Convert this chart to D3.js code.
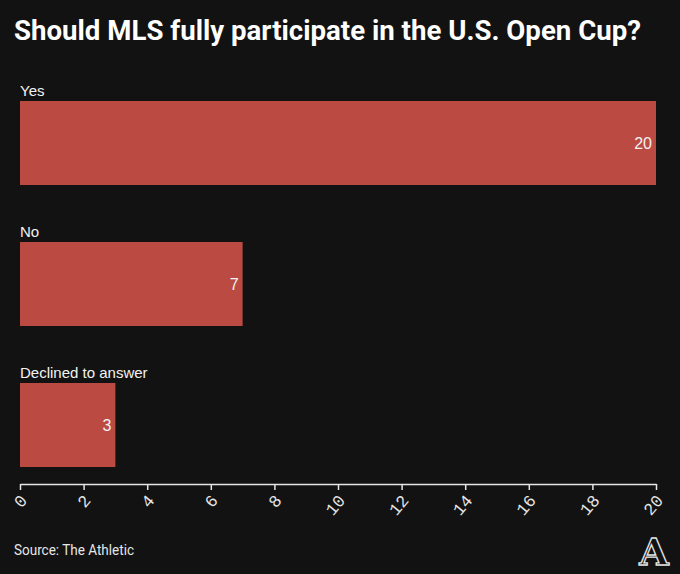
<!DOCTYPE html>
<html><head><meta charset="utf-8">
<script src="https://cdn.jsdelivr.net/npm/d3@7"></script>
<style>html,body{margin:0;padding:0;background:#121212;}</style>
</head><body>
<svg id="c" width="680" height="574"></svg>
<script>
const categories = ["Yes", "No", "Declined to answer"];
const values = [20, 7, 3];
const tickValues = [0, 2, 4, 6, 8, 10, 12, 14, 16, 18, 20];
const title = "Should MLS fully participate in the U.S. Open Cup?";
const source = "Source: The Athletic";

const svg = d3.select("#c");
svg.append("rect").attr("width", 680).attr("height", 574).attr("fill", "#121212");

svg.append("text").attr("x", 14).attr("y", 40)
  .attr("fill", "#fff").attr("font-family", "Roboto, 'Liberation Sans', sans-serif")
  .attr("font-weight", 700).attr("font-size", 28)
  .attr("textLength", 627).attr("lengthAdjust", "spacingAndGlyphs")
  .text(title);

const x = d3.scaleLinear().domain([0, 20]).range([20, 656]);
const step = 141, barH = 84;
const yPos = d3.scalePoint().domain(categories).range([101, 101 + 2 * step]);

const g = svg.append("g");
g.selectAll("rect.bar").data(categories).join("rect")
  .attr("x", x(0)).attr("y", d => yPos(d))
  .attr("width", (d, i) => x(values[i]) - x(0)).attr("height", barH)
  .attr("fill", "#bb4a43");

g.selectAll("text.cat").data(categories).join("text")
  .attr("x", x(0)).attr("y", d => yPos(d) - 5)
  .attr("fill", "#f2f2f2").attr("font-family", "'Liberation Sans', Arial, sans-serif")
  .attr("font-size", 15).text(d => d);

g.selectAll("text.val").data(categories).join("text")
  .attr("x", (d, i) => x(values[i]) - 4).attr("y", d => yPos(d) + barH / 2 + 6)
  .attr("text-anchor", "end")
  .attr("fill", "#f2f2f2").attr("font-family", "'Liberation Sans', Arial, sans-serif")
  .attr("font-size", 16).text((d, i) => values[i]);

const axis = d3.axisBottom(x).tickValues(tickValues).tickSize(6).tickSizeOuter(0).tickFormat(d3.format("d"));
const ax = svg.append("g").attr("transform", "translate(0,484)").call(axis);
ax.attr("font-size", null);
ax.select(".domain").attr("stroke", "#e6e6e6").attr("stroke-width", 1.5);
ax.selectAll(".tick line").attr("stroke", "#e6e6e6").attr("stroke-width", 1.5);
ax.selectAll(".tick text")
  .attr("fill", "#e6e6e6").attr("font-family", "'Liberation Mono', 'DejaVu Sans Mono', monospace")
  .style("font-size", "17px")
  .attr("text-anchor", "end")
  .attr("dy", "0.35em").attr("y", 0)
  .attr("transform", "translate(3,13) rotate(-50)");

svg.append("text").attr("x", 14).attr("y", 555)
  .attr("fill", "#e6e6e6").attr("font-family", "Roboto, 'Liberation Sans', sans-serif")
  .attr("font-size", 14).attr("textLength", 120).attr("lengthAdjust", "spacingAndGlyphs")
  .text(source);

svg.append("text").attr("x", 654).attr("y", 565).attr("text-anchor", "middle")
  .attr("fill", "#121212").attr("stroke", "#e6e6e6").attr("stroke-width", 1.3)
  .attr("font-family", "'DejaVu Serif', 'Liberation Serif', serif").attr("font-weight", 700)
  .attr("font-size", 38).text("A");
</script>
</body></html>
